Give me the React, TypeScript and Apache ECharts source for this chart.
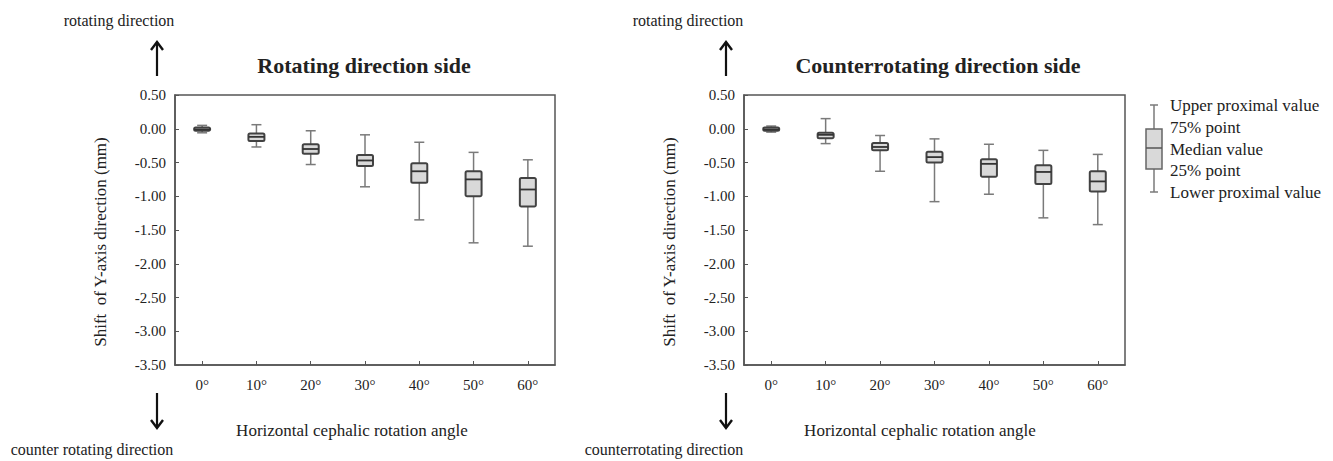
import React, { useEffect, useRef } from "react";
import * as echarts from "echarts";

const categories = ["0°", "10°", "20°", "30°", "40°", "50°", "60°"];
const yTicks = { min: -3.5, max: 0.5, interval: 0.5 };

// Rotating direction side: lower proximal, 25%, median, 75%, upper proximal
const rotLow = [-0.06, -0.27, -0.53, -0.86, -1.35, -1.69, -1.74];
const rotQ1 = [-0.03, -0.18, -0.37, -0.55, -0.8, -1.0, -1.15];
const rotMed = [-0.01, -0.12, -0.3, -0.47, -0.63, -0.75, -0.9];
const rotQ3 = [0.02, -0.07, -0.23, -0.39, -0.51, -0.63, -0.73];
const rotHigh = [0.05, 0.06, -0.03, -0.09, -0.2, -0.35, -0.46];

// Counterrotating direction side
const ctrLow = [-0.05, -0.22, -0.63, -1.08, -0.97, -1.32, -1.42];
const ctrQ1 = [-0.03, -0.14, -0.32, -0.5, -0.71, -0.82, -0.93];
const ctrMed = [-0.01, -0.09, -0.27, -0.42, -0.52, -0.64, -0.78];
const ctrQ3 = [0.02, -0.06, -0.21, -0.34, -0.45, -0.54, -0.63];
const ctrHigh = [0.04, 0.15, -0.1, -0.15, -0.23, -0.32, -0.38];

const legendLabels = [
  "Upper proximal value",
  "75% point",
  "Median value",
  "25% point",
  "Lower proximal value",
];

const FONT = "'Liberation Serif', 'Times New Roman', serif";
const BOX_FILL = "#d9d9d9";
const BOX_STROKE = "#424242";
const WHISKER = "#7a7a7a";
const AXIS = "#555555";

function buildRows(lo: number[], q1: number[], md: number[], q3: number[], hi: number[]) {
  return categories.map((_, i) => [i, lo[i], q1[i], md[i], q3[i], hi[i]]);
}

const renderBox = (params: any, api: any) => {
  const idx = api.value(0);
  const pLo = api.coord([idx, api.value(1)]);
  const pQ1 = api.coord([idx, api.value(2)]);
  const pMd = api.coord([idx, api.value(3)]);
  const pQ3 = api.coord([idx, api.value(4)]);
  const pHi = api.coord([idx, api.value(5)]);
  const x = pMd[0];
  const bw = 16;
  const cw = 10;
  const wStyle = { stroke: WHISKER, lineWidth: 1.5 };
  return {
    type: "group",
    children: [
      { type: "line", shape: { x1: x, y1: pHi[1], x2: x, y2: pQ3[1] }, style: wStyle },
      { type: "line", shape: { x1: x, y1: pQ1[1], x2: x, y2: pLo[1] }, style: wStyle },
      { type: "line", shape: { x1: x - cw / 2, y1: pHi[1], x2: x + cw / 2, y2: pHi[1] }, style: wStyle },
      { type: "line", shape: { x1: x - cw / 2, y1: pLo[1], x2: x + cw / 2, y2: pLo[1] }, style: wStyle },
      {
        type: "rect",
        shape: { x: x - bw / 2, y: pQ3[1], width: bw, height: Math.max(pQ1[1] - pQ3[1], 1), r: 1.5 },
        style: { fill: BOX_FILL, stroke: BOX_STROKE, lineWidth: 2 },
      },
      { type: "line", shape: { x1: x - bw / 2, y1: pMd[1], x2: x + bw / 2, y2: pMd[1] }, style: { stroke: "#333", lineWidth: 1.8 } },
    ],
  };
};

function arrow(x: number, yTop: number, yBot: number, up: boolean) {
  const tipY = up ? yTop : yBot;
  const dir = up ? 1 : -1;
  return [
    { type: "line", shape: { x1: x, y1: yTop, x2: x, y2: yBot }, style: { stroke: "#111", lineWidth: 2.2 } },
    {
      type: "polyline",
      shape: { points: [[x - 6, tipY + dir * 8], [x, tipY], [x + 6, tipY + dir * 8]] },
      style: { stroke: "#111", lineWidth: 2.4, fill: "none" },
    },
  ];
}

function txt(text: string, x: number, y: number, size: number, extra: any = {}) {
  return {
    type: "text",
    x,
    y,
    style: { text, fontFamily: FONT, fontSize: size, fill: "#222", align: "center", verticalAlign: "middle", ...extra.style },
    ...extra.el,
  };
}

export default function App() {
  const ref = useRef<HTMLDivElement>(null);
  useEffect(() => {
    document.body.style.margin = "0";
    if (!ref.current) return;
    const chart = echarts.init(ref.current, undefined, { renderer: "svg" });

    const mkX = (gi: number) => ({
      type: "category",
      gridIndex: gi,
      data: categories,
      boundaryGap: true,
      axisLine: { show: true, onZero: false, lineStyle: { color: AXIS, width: 1.5 } },
      axisTick: { show: true, inside: true, alignWithLabel: true, length: 4, lineStyle: { color: AXIS } },
      axisLabel: { fontFamily: FONT, fontSize: 15, color: "#222", margin: 12 },
      splitLine: { show: false },
    });
    const mkY = (gi: number) => ({
      type: "value",
      gridIndex: gi,
      min: yTicks.min,
      max: yTicks.max,
      interval: yTicks.interval,
      axisLine: { show: true, onZero: false, lineStyle: { color: AXIS, width: 1.5 } },
      axisTick: { show: true, inside: true, length: 4, lineStyle: { color: AXIS } },
      axisLabel: { fontFamily: FONT, fontSize: 15, color: "#222", margin: 9, formatter: (v: number) => v.toFixed(2) },
      splitLine: { show: false },
    });

    const legendX = 1154;
    const lg = { top: 105, q3: 129, md: 148, q1: 169, bot: 192 };
    const legendGraphics = [
      { type: "line", shape: { x1: legendX, y1: lg.top, x2: legendX, y2: lg.q3 }, style: { stroke: WHISKER, lineWidth: 1.5 } },
      { type: "line", shape: { x1: legendX, y1: lg.q1, x2: legendX, y2: lg.bot }, style: { stroke: WHISKER, lineWidth: 1.5 } },
      { type: "line", shape: { x1: legendX - 4, y1: lg.top, x2: legendX + 4, y2: lg.top }, style: { stroke: WHISKER, lineWidth: 1.5 } },
      { type: "line", shape: { x1: legendX - 4, y1: lg.bot, x2: legendX + 4, y2: lg.bot }, style: { stroke: WHISKER, lineWidth: 1.5 } },
      { type: "rect", shape: { x: legendX - 8, y: lg.q3, width: 16, height: lg.q1 - lg.q3 }, style: { fill: BOX_FILL, stroke: "#666", lineWidth: 1.5 } },
      { type: "line", shape: { x1: legendX - 8, y1: lg.md, x2: legendX + 8, y2: lg.md }, style: { stroke: "#555", lineWidth: 1.5 } },
      ...legendLabels.map((t, i) =>
        txt(t, 1170, [105, 127, 149, 170, 192][i], 17, { style: { align: "left" } })
      ),
    ];

    const option: any = {
      animation: false,
      grid: [
        { left: 175, top: 95, width: 380, height: 270, show: true, borderColor: AXIS, borderWidth: 1.5, containLabel: false },
        { left: 744, top: 95, width: 381, height: 270, show: true, borderColor: AXIS, borderWidth: 1.5, containLabel: false },
      ],
      xAxis: [mkX(0), mkX(1)],
      yAxis: [mkY(0), mkY(1)],
      series: [
        {
          type: "custom",
          name: "Rotating direction side",
          xAxisIndex: 0,
          yAxisIndex: 0,
          renderItem: renderBox,
          encode: { x: 0, y: [1, 2, 3, 4, 5] },
          data: buildRows(rotLow, rotQ1, rotMed, rotQ3, rotHigh),
        },
        {
          type: "custom",
          name: "Counterrotating direction side",
          xAxisIndex: 1,
          yAxisIndex: 1,
          renderItem: renderBox,
          encode: { x: 0, y: [1, 2, 3, 4, 5] },
          data: buildRows(ctrLow, ctrQ1, ctrMed, ctrQ3, ctrHigh),
        },
      ],
      graphic: [
        txt("Rotating direction side", 364, 65, 22, { style: { fontWeight: "bold" } }),
        txt("Counterrotating direction side", 938, 65, 22, { style: { fontWeight: "bold" } }),
        txt("rotating direction", 119, 20, 16),
        txt("rotating direction", 688, 20, 16),
        txt("counter rotating direction", 92, 449, 16),
        txt("counterrotating direction", 664, 449, 16),
        txt("Horizontal cephalic rotation angle", 352, 430, 17),
        txt("Horizontal cephalic rotation angle", 920, 430, 17),
        txt("Shift  of Y-axis direction (mm)", 100, 242, 17, { el: { rotation: Math.PI / 2 } }),
        txt("Shift  of Y-axis direction (mm)", 669, 242, 17, { el: { rotation: Math.PI / 2 } }),
        ...arrow(157, 42, 76, true),
        ...arrow(157, 393, 428, false),
        ...arrow(726, 42, 76, true),
        ...arrow(726, 393, 428, false),
        ...legendGraphics,
      ],
    };
    chart.setOption(option);
    return () => chart.dispose();
  }, []);
  return <div ref={ref} style={{ width: 1333, height: 461, background: "#fff" }} />;
}
